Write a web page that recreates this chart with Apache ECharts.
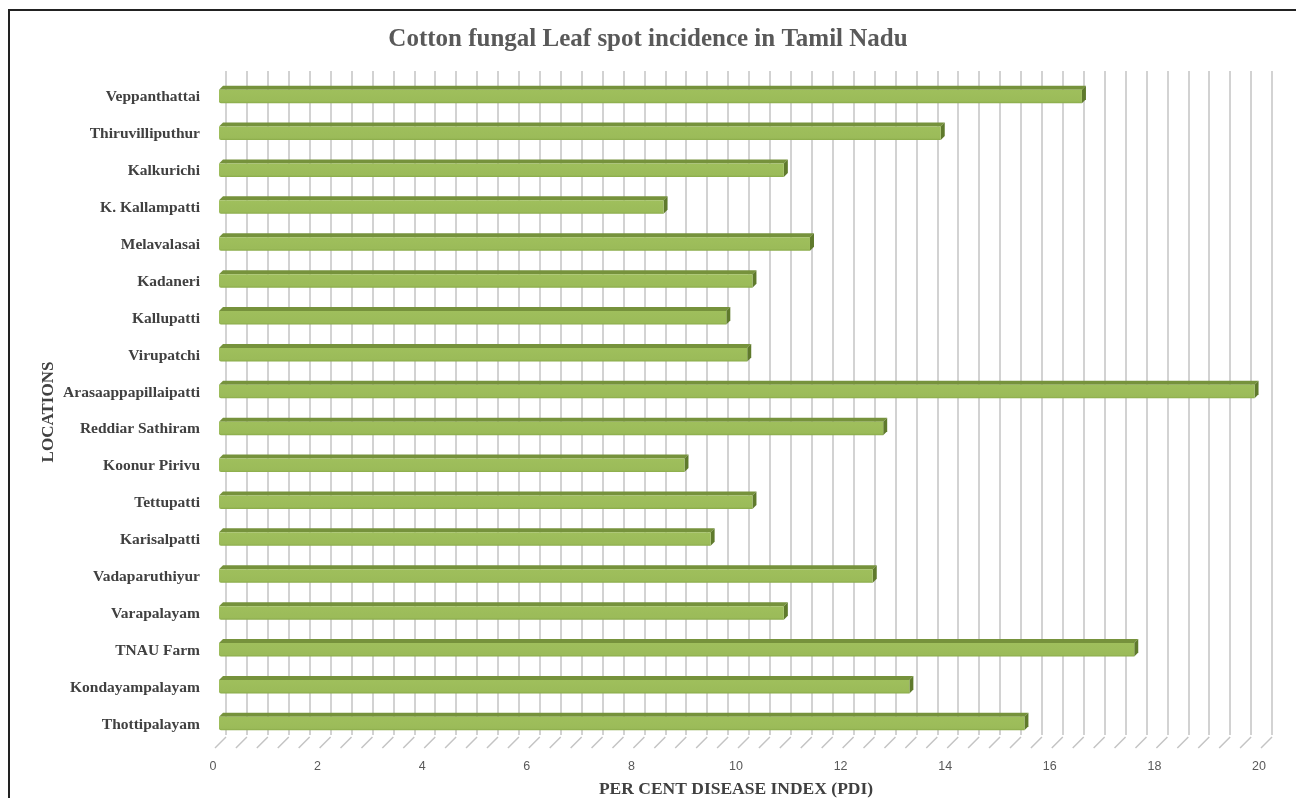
<!DOCTYPE html>
<html>
<head>
<meta charset="utf-8">
<script src="https://cdn.jsdelivr.net/npm/echarts@6/dist/echarts.min.js"></script>
<style>
  html, body { margin: 0; padding: 0; background: #fff; }
  #chart { width: 1296px; height: 798px; }
</style>
</head>
<body>
<div id="chart"></div>
<script>
// locations, listed top to bottom as in the picture
const locations = [
  'Veppanthattai', 'Thiruvilliputhur', 'Kalkurichi', 'K. Kallampatti',
  'Melavalasai', 'Kadaneri', 'Kallupatti', 'Virupatchi',
  'Arasaappapillaipatti', 'Reddiar Sathiram', 'Koonur Pirivu', 'Tettupatti',
  'Karisalpatti', 'Vadaparuthiyur', 'Varapalayam', 'TNAU Farm',
  'Kondayampalayam', 'Thottipalayam'
]
// per cent disease index
const pdi = [
  16.5, 13.8, 10.8, 8.5,
  11.3, 10.2, 9.7, 10.1,
  19.8, 12.7, 8.9, 10.2,
  9.4, 12.5, 10.8, 17.5,
  13.2, 15.4
]
const xMin = 0
const xMax = 20
const xStep = 2
const minorPerStep = 5

// floor marks (the little slanted lines of the 3d floor), one per gridline
const floorTicks = []
for (let i = 0; i <= (xMax - xMin) / xStep * minorPerStep; i++) {
  floorTicks.push(+(xMin + i * xStep / minorPerStep).toFixed(2))
}

const chart = echarts.init(document.getElementById('chart'))

// 3d look: front face pushed down-left of the back wall, with a top and right face
const FRONT_DX = -7, FRONT_DY = 7, DEPTH = 4, FACE_H = 13.5

const renderBar = (params, api) => {
  const idx = api.value(0)
  const val = api.value(1)
  const p0 = api.coord([0, idx])
  const p1 = api.coord([val, idx])
  const x0 = p0[0] + FRONT_DX
  const x1 = p1[0] + FRONT_DX
  const yTop = p0[1] + FRONT_DY - FACE_H / 2
  const yBot = yTop + FACE_H
  return {
    type: 'group',
    children: [
      {
        type: 'polygon',
        shape: { points: [[x0, yTop], [x1, yTop], [x1 + DEPTH, yTop - DEPTH], [x0 + DEPTH, yTop - DEPTH]] },
        style: { fill: '#76923c' }
      },
      {
        type: 'polygon',
        shape: { points: [[x1, yTop], [x1 + DEPTH, yTop - DEPTH], [x1 + DEPTH, yBot - DEPTH], [x1, yBot]] },
        style: { fill: '#5f7a2c' }
      },
      {
        type: 'rect',
        shape: { x: x0, y: yTop, width: x1 - x0, height: FACE_H, r: [0, 0, 0, 2] },
        style: {
          fill: new echarts.graphic.LinearGradient(0, 0, 0, 1, [
            { offset: 0, color: '#9fbf5c' },
            { offset: 0.85, color: '#9bbb59' },
            { offset: 1, color: '#8aab4a' }
          ])
        }
      }
    ]
  }
}

const renderFloor = (params, api) => {
  const cs = params.coordSys
  const x = api.coord([api.value(0), 0])[0]
  const yb = cs.y + cs.height
  return {
    type: 'line',
    shape: { x1: x, y1: yb + 2, x2: x - 11, y2: yb + 13 },
    style: { stroke: '#c4c4c4', lineWidth: 1.5 },
    silent: true
  }
}

const option = {
  backgroundColor: '#fff',
  animation: false,
  title: {
    text: 'Cotton fungal Leaf spot incidence in Tamil Nadu',
    left: 'center',
    top: 22,
    textStyle: { fontFamily: 'Liberation Serif', fontWeight: 'bold', fontSize: 25, color: '#595959' }
  },
  graphic: [
    {
      type: 'rect',
      shape: { x: 9, y: 10, width: 1300, height: 800 },
      style: { fill: null, stroke: '#222', lineWidth: 2 },
      silent: true
    }
  ],
  grid: { left: 226, right: 24, top: 71, bottom: 63, outerBoundsMode: 'none' },
  xAxis: {
    type: 'value',
    min: xMin,
    max: xMax,
    interval: xStep,
    axisLine: { show: false },
    axisTick: { show: false },
    splitLine: { show: true, lineStyle: { color: '#c4c4c4', width: 1.5 } },
    minorTick: { show: false, splitNumber: minorPerStep },
    minorSplitLine: { show: true, lineStyle: { color: '#c4c4c4', width: 1.5 } },
    axisLabel: {
      margin: 25,
      padding: [0, 26, 0, 0],
      fontFamily: 'Liberation Sans',
      fontSize: 12.5,
      color: '#595959'
    },
    name: 'PER CENT DISEASE INDEX (PDI)',
    nameLocation: 'middle',
    nameGap: 45,
    nameMoveOverlap: false,
    nameTextStyle: {
      fontFamily: 'Liberation Serif', fontWeight: 'bold', fontSize: 17.5, color: '#404040',
      padding: [0, 26, 0, 0]
    }
  },
  yAxis: {
    type: 'category',
    data: locations,
    inverse: true,
    axisLine: { show: false },
    axisTick: { show: false },
    splitLine: { show: false },
    axisLabel: {
      margin: 26,
      verticalAlign: 'top',
      lineHeight: 16,
      fontFamily: 'Liberation Serif',
      fontWeight: 'bold',
      fontSize: 15.5,
      color: '#404040'
    },
    name: 'LOCATIONS',
    nameLocation: 'middle',
    nameGap: 169,
    nameMoveOverlap: false,
    nameRotate: 90,
    nameTextStyle: {
      fontFamily: 'Liberation Serif', fontWeight: 'bold', fontSize: 17, color: '#404040',
      padding: [0, 18, 0, 0]
    }
  },
  series: [
    {
      name: 'floor',
      type: 'custom',
      renderItem: renderFloor,
      data: floorTicks.map(v => [v]),
      encode: { x: 0 },
      clip: false,
      z: 1
    },
    {
      name: 'PDI',
      type: 'custom',
      renderItem: renderBar,
      data: pdi.map((v, i) => [i, v]),
      encode: { y: 0, x: 1 },
      clip: false,
      z: 2
    }
  ]
}

chart.setOption(option)
</script>
</body>
</html>
